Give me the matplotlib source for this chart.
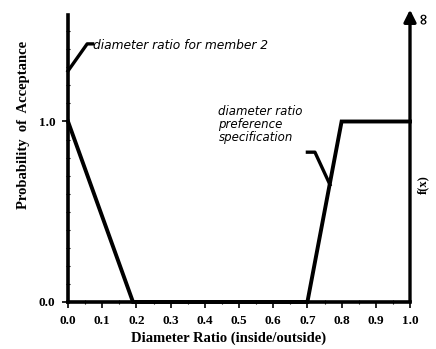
import matplotlib
matplotlib.use("Agg")
import matplotlib.pyplot as plt
from matplotlib.ticker import MultipleLocator

# preference curve for diameter ratio
ratio = [0.0, 0.19, 0.70, 0.80, 1.0]
prob = [1.0, 0.0, 0.0, 1.0, 1.0]

xticks = [0.0, 0.1, 0.2, 0.3, 0.4, 0.5, 0.6, 0.7, 0.8, 0.9, 1.0]
yticks = [0.0, 1.0]
member2_ratio = 1.28

fig = plt.figure(figsize=(4.36, 3.49), dpi=100)
ax = fig.add_axes([68/436, 47/349, 342/436, 287/349])

ax.plot(ratio, prob, color="black", lw=2.8, solid_joinstyle="miter", clip_on=False)

ax.set_xlim(0, 1)
ax.set_ylim(0, 1.59)
ax.spines["top"].set_visible(False)
ax.spines["right"].set_visible(False)
ax.spines["left"].set_linewidth(2.6)
ax.spines["bottom"].set_linewidth(2.6)

ax.set_xticks(xticks)
ax.set_xticklabels(["%.1f" % v for v in xticks])
ax.set_yticks(yticks)
ax.set_yticklabels(["%.1f" % v for v in yticks])
ax.xaxis.set_minor_locator(MultipleLocator(0.05))
ax.yaxis.set_minor_locator(MultipleLocator(0.1))
ax.tick_params(which="major", direction="out", length=4, width=1.2, pad=5)
ax.tick_params(which="minor", direction="inout", length=3, width=0.8)
for lab in ax.get_xticklabels() + ax.get_yticklabels():
    lab.set_family("Liberation Serif")
    lab.set_fontweight("bold")
    lab.set_fontsize(9.5)

ax.set_xlabel("Diameter Ratio (inside/outside)", family="Liberation Serif",
              fontweight="bold", fontsize=10.5)
ax.xaxis.set_label_coords(0.47, -0.102)
ax.set_ylabel("Probability  of  Acceptance", family="Liberation Serif",
              fontweight="bold", fontsize=10.5)
ax.yaxis.set_label_coords(-0.112, 0.617)

# right axis with arrow to infinity
ax.annotate("", xy=(1.0, 1.62), xytext=(1.0, 0.0), annotation_clip=False,
            arrowprops=dict(arrowstyle="-|>", lw=2.4, mutation_scale=18,
                            color="black", shrinkA=0, shrinkB=0))
ax.text(1.038, 1.575, "\u221e", fontsize=11, fontweight="bold", rotation=90,
        ha="center", va="center", clip_on=False)
ax.text(1.038, 0.65, "f(x)", family="Liberation Serif", fontweight="bold",
        fontsize=9, rotation=90, ha="center", va="center", clip_on=False)

# annotations
ax.plot([0.0, 0.056, 0.072], [member2_ratio, 1.43, 1.43], color="black",
        lw=2.4, clip_on=False)
ax.text(0.074, 1.42, "diameter ratio for member 2", family="DejaVu Sans",
        style="italic", fontsize=8.8, ha="left", va="center")

ax.plot([0.70, 0.722, 0.766], [0.83, 0.83, 0.65], color="black", lw=2.4)
ax.text(0.44, 1.09, "diameter ratio\npreference\nspecification",
        family="DejaVu Sans", style="italic", fontsize=8.5, ha="left",
        va="top", linespacing=1.0)

fig.savefig("out.png", dpi=100)
